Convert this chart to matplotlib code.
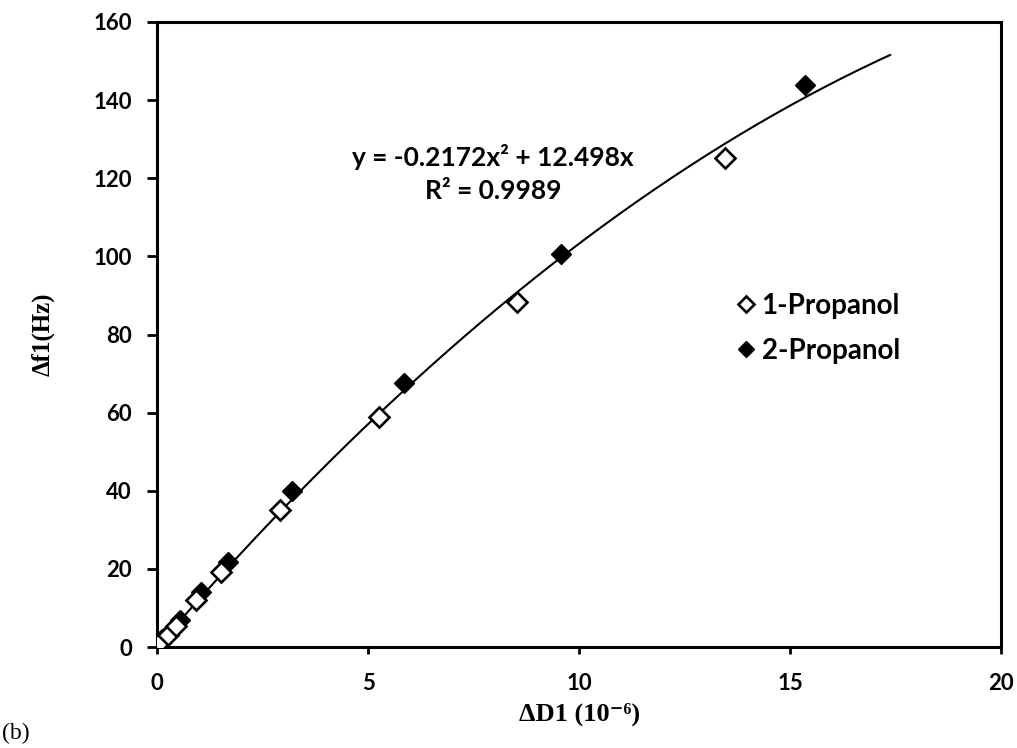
import numpy as np
import matplotlib
matplotlib.use("Agg")
import matplotlib.pyplot as plt

# 1-Propanol (open diamonds)
d1_prop1 = [0.08, 0.25, 0.45, 0.92, 1.52, 2.92, 5.26, 8.53, 13.45]
f1_prop1 = [1.2, 3.2, 5.5, 12.0, 19.3, 35.1, 59.0, 88.3, 125.3]

# 2-Propanol (filled diamonds)
d1_prop2 = [0.03, 0.12, 0.32, 0.55, 1.04, 1.68, 3.20, 5.85, 9.57, 15.36]
f1_prop2 = [0.8, 2.0, 4.2, 7.0, 14.0, 21.8, 39.9, 67.6, 100.6, 143.9]

# quadratic trendline through the origin
fit_a, fit_b = -0.2172, 12.498
fit_r2 = 0.9989
fit_xmax = 17.37

label_font = "Lato"
serif_font = ["Liberation Serif", "DejaVu Serif"]

fig = plt.figure(figsize=(10.17, 7.48), dpi=100)
ax = fig.add_axes([0.1544, 0.135, 0.830, 0.8356])

xs = np.linspace(0, fit_xmax, 300)
ax.plot(xs, fit_a * xs**2 + fit_b * xs, color="black", lw=1.5, zorder=2)

ax.plot(d1_prop2, f1_prop2, ls="none", marker="D", ms=10.5, color="black",
        mfc="black", mec="black", label="2-Propanol", zorder=3)
ax.plot(d1_prop1, f1_prop1, ls="none", marker="D", ms=10.5, mfc="white",
        mec="black", mew=1.9, label="1-Propanol", zorder=4)

ax.set_xlim(0, 20)
ax.set_ylim(0, 160)
ax.set_xticks([0, 5, 10, 15, 20])
ax.set_yticks(range(0, 161, 20))

for s in ax.spines.values():
    s.set_linewidth(2.2)
ax.tick_params(axis="x", direction="out", length=5, width=2, labelsize=16, pad=14)
ax.tick_params(axis="y", direction="out", length=7, width=2, labelsize=16, pad=11)
for lab in ax.get_xticklabels() + ax.get_yticklabels():
    lab.set_fontfamily(label_font)
    lab.set_fontweight("bold")

ax.set_xlabel("ΔD1 (10⁻⁶)", fontfamily=serif_font, fontweight="bold",
              fontsize=19, labelpad=6)
ax.set_ylabel("Δf1(Hz)", fontfamily=serif_font, fontweight="bold",
              fontsize=18, labelpad=28)

ax.text(7.96, 121.3,
        f"y = {fit_a}x² + {fit_b}x\nR² = {fit_r2}",
        ha="center", va="center", multialignment="center",
        fontfamily=label_font, fontweight="bold", fontsize=19,
        linespacing=1.45)

handles, labels = ax.get_legend_handles_labels()
leg = ax.legend(handles[::-1], labels[::-1], loc="upper left",
                bbox_to_anchor=(0.652, 0.607), frameon=False,
                prop={"family": label_font, "weight": "bold", "size": 20},
                handletextpad=0.05, handlelength=1.0, labelspacing=0.68,
                markerscale=0.75)

fig.text(0.002, 0.012, "(b)", fontfamily=serif_font, fontsize=17)

fig.savefig("out.png", dpi=100)
